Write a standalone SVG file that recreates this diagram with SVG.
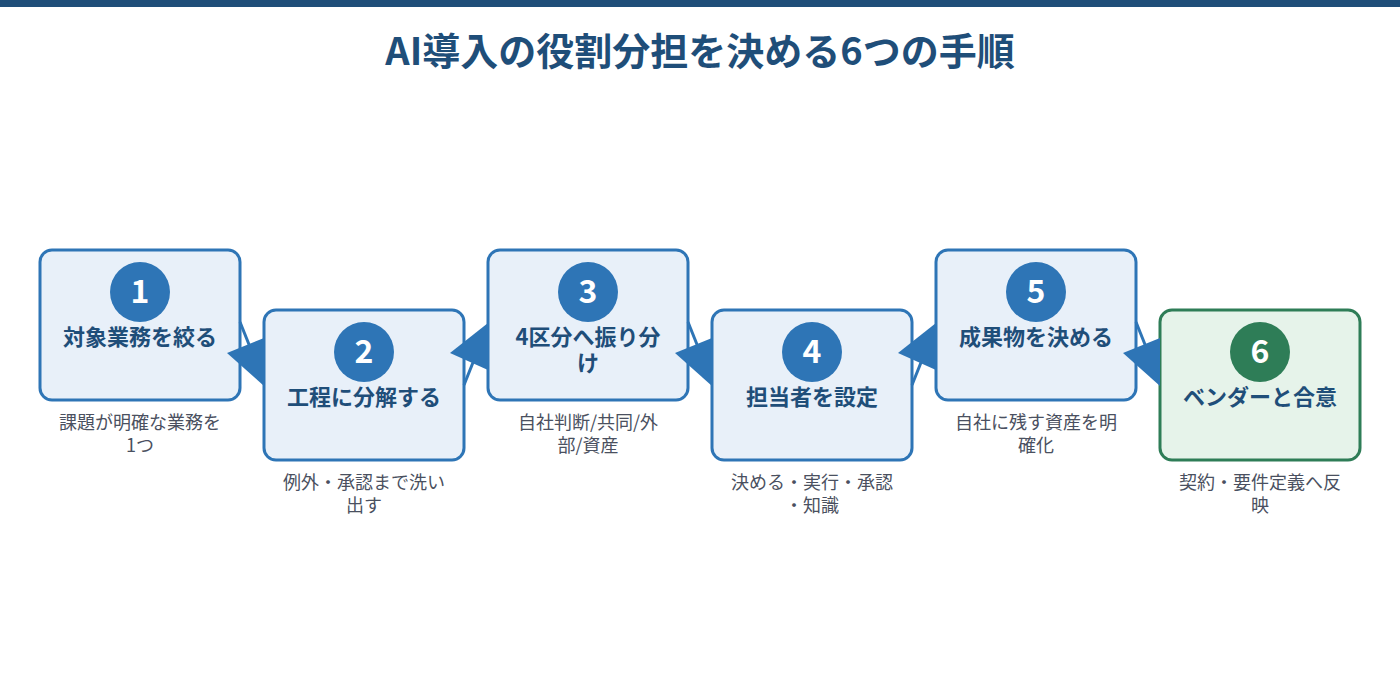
<svg xmlns="http://www.w3.org/2000/svg" width="1400" height="700" viewBox="0 0 1400 700">
<style>
text{font-family:"Noto Sans CJK JP","Noto Sans",sans-serif;}
.title{font-size:38px;font-weight:700;fill:#1f4e79;text-anchor:middle;}
.box{fill:#e8f0f9;stroke:#2e75b6;stroke-width:3;}
.box6{fill:#e6f3ea;stroke:#2e7d57;stroke-width:3;}
.circ{fill:#2e75b6;}
.circ6{fill:#2e7d57;}
.num{font-size:32px;font-weight:700;fill:#ffffff;text-anchor:middle;}
.lbl{font-size:22px;font-weight:700;fill:#1f4e79;text-anchor:middle;}
.sub{font-size:18px;fill:#4a5060;text-anchor:middle;}
.edge{stroke:#2e75b6;stroke-width:3;fill:none;}
.head{fill:#2e75b6;}
</style>
<rect x="0" y="0" width="1400" height="7" fill="#1f4e79"/>
<text class="title" x="700" y="65">AI導入の役割分担を決める6つの手順</text>

<g id="node1">
<rect class="box" x="40" y="250" width="200" height="150" rx="12"/>
<circle class="circ" cx="140" cy="292" r="30"/>
<text class="num" x="140" y="303">1</text>
<text class="lbl" x="140" y="345">対象業務を絞る</text>
<text class="sub" x="140" y="429">課題が明確な業務を<tspan x="140" dy="23">1つ</tspan></text>
</g>

<g id="node2">
<rect class="box" x="264" y="310" width="200" height="150" rx="12"/>
<circle class="circ" cx="364" cy="352" r="30"/>
<text class="num" x="364" y="363">2</text>
<text class="lbl" x="364" y="405">工程に分解する</text>
<text class="sub" x="364" y="489">例外・承認まで洗い<tspan x="364" dy="23">出す</tspan></text>
</g>

<g id="node3">
<rect class="box" x="488" y="250" width="200" height="150" rx="12"/>
<circle class="circ" cx="588" cy="292" r="30"/>
<text class="num" x="588" y="303">3</text>
<text class="lbl" x="588" y="345">4区分へ振り分<tspan x="588" dy="26">け</tspan></text>
<text class="sub" x="588" y="429">自社判断/共同/外<tspan x="588" dy="23">部/資産</tspan></text>
</g>

<g id="node4">
<rect class="box" x="712" y="310" width="200" height="150" rx="12"/>
<circle class="circ" cx="812" cy="352" r="30"/>
<text class="num" x="812" y="363">4</text>
<text class="lbl" x="812" y="405">担当者を設定</text>
<text class="sub" x="812" y="489">決める・実行・承認<tspan x="812" dy="23">・知識</tspan></text>
</g>

<g id="node5">
<rect class="box" x="936" y="250" width="200" height="150" rx="12"/>
<circle class="circ" cx="1036" cy="292" r="30"/>
<text class="num" x="1036" y="303">5</text>
<text class="lbl" x="1036" y="345">成果物を決める</text>
<text class="sub" x="1036" y="429">自社に残す資産を明<tspan x="1036" dy="23">確化</tspan></text>
</g>

<g id="node6">
<rect class="box6" x="1160" y="310" width="200" height="150" rx="12"/>
<circle class="circ6" cx="1260" cy="352" r="30"/>
<text class="num" x="1260" y="363">6</text>
<text class="lbl" x="1260" y="405">ベンダーと合意</text>
<text class="sub" x="1260" y="489">契約・要件定義へ反<tspan x="1260" dy="23">映</tspan></text>
</g>

<g id="connectors">
<line class="edge" x1="240" y1="322" x2="252" y2="352"/>
<polygon class="head" points="227,353 264,338 264,386"/>
<line class="edge" x1="464" y1="385" x2="476" y2="355"/>
<polygon class="head" points="450,353 488,323 488,370"/>
<line class="edge" x1="688" y1="322" x2="700" y2="352"/>
<polygon class="head" points="675,353 712,338 712,386"/>
<line class="edge" x1="912" y1="385" x2="924" y2="355"/>
<polygon class="head" points="898,353 936,323 936,370"/>
<line class="edge" x1="1136" y1="322" x2="1148" y2="352"/>
<polygon class="head" points="1123,353 1160,338 1160,386"/>
</g>
</svg>
